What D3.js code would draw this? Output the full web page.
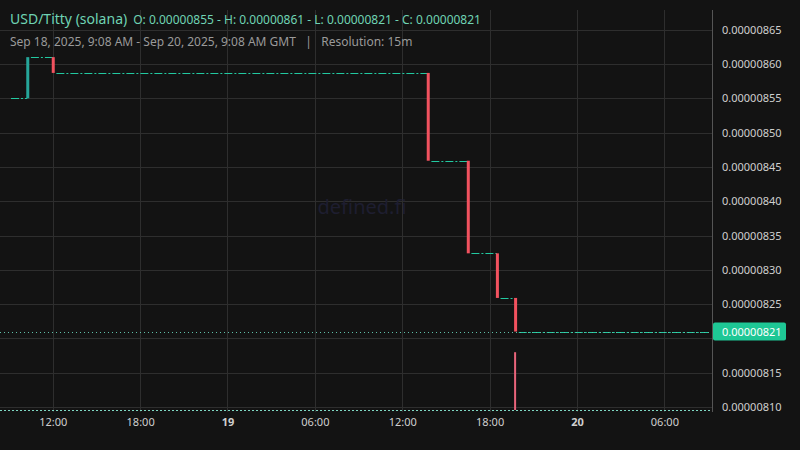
<!DOCTYPE html>
<html><head><meta charset="utf-8">
<script src="https://cdn.jsdelivr.net/npm/d3@7"></script>
<style>body{margin:0;background:#131313;}svg{display:block;font-family:"Noto Sans",sans-serif;}</style>
</head><body>
<svg id="c" width="800" height="450"></svg>
<script>
// candles where price moved (15m buckets)
var candleTimes = ['2025-09-18T10:15Z','2025-09-18T12:00Z','2025-09-19T13:45Z','2025-09-19T16:30Z','2025-09-19T18:30Z','2025-09-19T19:45Z'];
var opens  = [8.55, 8.61, 8.587, 8.459, 8.324, 8.259];
var closes = [8.61, 8.587, 8.459, 8.324, 8.259, 8.21];
var volTimes = ['2025-09-19T19:45Z'];
var volumes = [17];
var yTicks = [8.10, 8.15, 8.20, 8.25, 8.30, 8.35, 8.40, 8.45, 8.50, 8.55, 8.60, 8.65];
var xTicks = ['2025-09-18T12:00Z','2025-09-18T18:00Z','2025-09-19T00:00Z','2025-09-19T06:00Z','2025-09-19T12:00Z','2025-09-19T18:00Z','2025-09-20T00:00Z','2025-09-20T06:00Z'];
var startTime = '2025-09-18T09:08Z', endTime = '2025-09-20T09:08Z';
var lastPrice = 8.21;

var svg = d3.select('#c');
var plotR = 712, plotB = 412;
var green = '#26a69a', red = '#f2525f', teal = '#22c9a0';

var x = d3.scaleUtc().domain([new Date(startTime), new Date(endTime)]).range([11, 710]);
var y = d3.scaleLinear().domain([8.10, 8.60]).range([407, 64]);
var vy = d3.scaleLinear().domain([0, 20]).range([410, 342]);
var q = 15 * 60 * 1000;

// grid
svg.append('g').selectAll('line').data(yTicks).enter().append('line')
  .attr('x1', 0).attr('x2', plotR).attr('y1', d => Math.round(y(d)) + .5).attr('y2', d => Math.round(y(d)) + .5)
  .attr('stroke', '#2e2e2e');
svg.append('g').selectAll('line').data(xTicks).enter().append('line')
  .attr('y1', 10).attr('y2', plotB).attr('x1', d => Math.round(x(new Date(d))) + .5).attr('x2', d => Math.round(x(new Date(d))) + .5)
  .attr('stroke', '#2e2e2e');
svg.append('line').attr('x1', plotR + .5).attr('x2', plotR + .5).attr('y1', 10).attr('y2', plotB).attr('stroke', '#555');

// watermark
svg.append('text').attr('x', 362).attr('y', 214).attr('text-anchor', 'middle')
  .attr('fill', '#1e1e30').attr('font-size', 20).text('defined.fi');

// volume baseline + bars
svg.append('line').attr('x1', 0).attr('x2', plotR).attr('y1', 410.5).attr('y2', 410.5)
  .attr('stroke', '#7fd8c4').attr('stroke-dasharray', '2,2');
svg.append('g').selectAll('rect').data(volumes).enter().append('rect')
  .attr('x', (d, i) => x(new Date(volTimes[i])) - 1).attr('width', 2)
  .attr('y', d => vy(d)).attr('height', d => 410 - vy(d)).attr('fill', '#e8647a');

// flat (no-move) stretches between candles
var flats = [];
flats.push([new Date(startTime), new Date(candleTimes[0]), opens[0]]);
for (var i = 0; i < candleTimes.length; i++) {
  var t0 = new Date(+new Date(candleTimes[i]) + q);
  var t1 = i + 1 < candleTimes.length ? new Date(candleTimes[i + 1]) : new Date(endTime);
  flats.push([t0, t1, closes[i]]);
}
svg.append('g').selectAll('line').data(flats).enter().append('line')
  .attr('x1', d => x(d[0])).attr('x2', d => x(d[1]))
  .attr('y1', d => Math.round(y(d[2])) + .5).attr('y2', d => Math.round(y(d[2])) + .5)
  .attr('stroke', teal).attr('stroke-dasharray', '8,2,2,2');

// candles
svg.append('g').selectAll('rect').data(candleTimes).enter().append('rect')
  .attr('x', d => x(new Date(d)) - 1).attr('width', 3)
  .attr('y', (d, i) => y(Math.max(opens[i], closes[i])))
  .attr('height', (d, i) => Math.abs(y(opens[i]) - y(closes[i])))
  .attr('fill', (d, i) => closes[i] >= opens[i] ? green : red);

// last price line
svg.append('line').attr('x1', 0).attr('x2', plotR).attr('y1', Math.round(y(lastPrice)) + .5).attr('y2', Math.round(y(lastPrice)) + .5)
  .attr('stroke', '#5fbfa8').attr('stroke-dasharray', '1,3');

// y axis (tick hidden by last-price label is skipped)
var yAxis = d3.axisRight(y).tickValues(yTicks.filter(d => Math.abs(d - lastPrice) > 0.02)).tickSize(0).tickPadding(10)
  .tickFormat(d => (d / 1e6).toFixed(8));
var ga = svg.append('g').attr('transform', 'translate(' + plotR + ',0)').call(yAxis);
ga.select('.domain').remove();
ga.selectAll('text').attr('fill', '#cfcfcf').attr('font-size', 11).attr('font-family', '"Noto Sans",sans-serif');

// last price label
svg.append('rect').attr('x', plotR + 1).attr('y', y(lastPrice) - 9).attr('width', 73).attr('height', 18)
  .attr('rx', 2).attr('fill', '#1ec795');
svg.append('text').attr('x', plotR + 10).attr('y', y(lastPrice) + 4).attr('fill', '#fff')
  .attr('font-size', 11).text((lastPrice / 1e6).toFixed(8));

// x axis
var fmt = d3.utcFormat('%H:%M');
var xAxis = d3.axisBottom(x).tickValues(xTicks.map(d => new Date(d))).tickSize(0).tickPadding(0)
  .tickFormat(d => d.getUTCHours() === 0 ? String(d.getUTCDate()) : fmt(d));
var gx = svg.append('g').attr('transform', 'translate(0,418)').call(xAxis);
gx.select('.domain').remove();
gx.selectAll('text').attr('fill', '#cfcfcf').attr('font-size', 11).attr('font-family', '"Noto Sans",sans-serif')
  .attr('font-weight', d => d.getUTCHours() === 0 ? 'bold' : 'normal');

// header
var h = svg.append('text').attr('x', 10).attr('y', 24);
h.append('tspan').attr('fill', '#6fd3b4').attr('font-size', 14).text('USD/Titty (solana)');
h.append('tspan').attr('dx', 6).attr('fill', '#6fd3b4').attr('font-size', 12)
  .text('O: 0.00000855 - H: 0.00000861 - L: 0.00000821 - C: 0.00000821');
svg.append('text').attr('x', 10).attr('y', 46).attr('fill', '#9a9a9a').attr('font-size', 12)
  .text('Sep 18, 2025, 9:08 AM - Sep 20, 2025, 9:08 AM GMT   |   Resolution: 15m').attr('xml:space', 'preserve');
</script>
</body></html>
